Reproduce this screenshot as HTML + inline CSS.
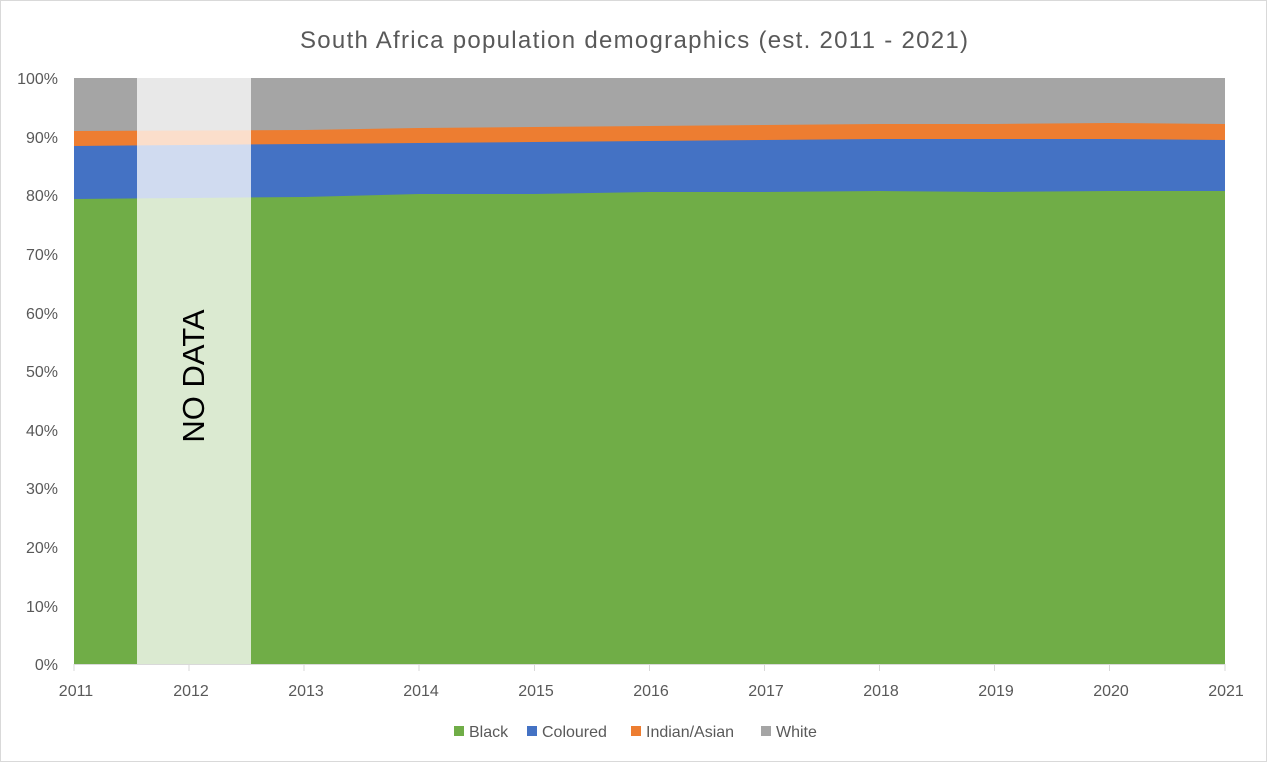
<!DOCTYPE html>
<html><head><meta charset="utf-8"><style>
html,body{margin:0;padding:0;background:#fff}
svg text{font-family:"Liberation Sans",sans-serif;fill:#595959}
</style></head><body>
<svg width="1268" height="763" viewBox="0 0 1268 763" xmlns="http://www.w3.org/2000/svg">
<rect x="0.5" y="0.5" width="1266" height="761" fill="#fff" stroke="#d9d9d9"/>
<text x="300" y="48" font-size="24" textLength="668" lengthAdjust="spacing">South Africa population demographics (est. 2011 - 2021)</text>
<g font-size="16" text-anchor="end">
<text x="58" y="84">100%</text><text x="58" y="143">90%</text><text x="58" y="201">80%</text><text x="58" y="260">70%</text><text x="58" y="319">60%</text><text x="58" y="377">50%</text><text x="58" y="436">40%</text><text x="58" y="494">30%</text><text x="58" y="553">20%</text><text x="58" y="612">10%</text><text x="58" y="670">0%</text>
</g>
<rect x="74" y="78" width="1151" height="586" fill="#a5a5a5"/>
<polygon fill="#ed7d31" points="74,131 189,130.5 304,130 419,128 534,127 649,126 764,125 879,124 994,124 1109,123 1225,124 1225,664 74,664"/>
<polygon fill="#4472c4" points="74,146 189,145 304,144 419,143 534,142 649,141 764,140 879,139 994,139 1109,139 1225,140 1225,664 74,664"/>
<polygon fill="#70ad47" points="74,199 189,198 304,197 419,194 534,194 649,192 764,192 879,191 994,192 1109,191 1225,191 1225,664 74,664"/>
<rect x="137" y="78" width="114" height="586" fill="#fff" fill-opacity="0.75"/>
<text transform="translate(204,376) rotate(-90)" font-size="31" text-anchor="middle" style="fill:#000">NO DATA</text>
<line x1="74" y1="664.5" x2="1225" y2="664.5" stroke="#d9d9d9"/>
<g stroke="#d9d9d9">
<line x1="74" y1="664" x2="74" y2="671"/><line x1="189" y1="664" x2="189" y2="671"/><line x1="304" y1="664" x2="304" y2="671"/><line x1="419" y1="664" x2="419" y2="671"/><line x1="534.5" y1="664" x2="534.5" y2="671"/><line x1="649.5" y1="664" x2="649.5" y2="671"/><line x1="764.5" y1="664" x2="764.5" y2="671"/><line x1="879.5" y1="664" x2="879.5" y2="671"/><line x1="994.5" y1="664" x2="994.5" y2="671"/><line x1="1109.5" y1="664" x2="1109.5" y2="671"/><line x1="1225" y1="664" x2="1225" y2="671"/>
</g>
<g font-size="16" text-anchor="middle">
<text x="76" y="696">2011</text><text x="191" y="696">2012</text><text x="306" y="696">2013</text><text x="421" y="696">2014</text><text x="536" y="696">2015</text><text x="651" y="696">2016</text><text x="766" y="696">2017</text><text x="881" y="696">2018</text><text x="996" y="696">2019</text><text x="1111" y="696">2020</text><text x="1226" y="696">2021</text>
</g>
<g font-size="16">
<rect x="454" y="726" width="10" height="10" fill="#70ad47"/><text x="469" y="737">Black</text>
<rect x="527" y="726" width="10" height="10" fill="#4472c4"/><text x="542" y="737">Coloured</text>
<rect x="631" y="726" width="10" height="10" fill="#ed7d31"/><text x="646" y="737">Indian/Asian</text>
<rect x="761" y="726" width="10" height="10" fill="#a5a5a5"/><text x="776" y="737">White</text>
</g>
</svg>
</body></html>
